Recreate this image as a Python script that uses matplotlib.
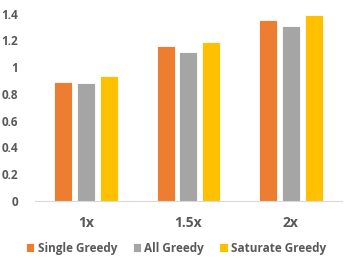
import numpy as np
import matplotlib.pyplot as plt

categories = ['1x', '1.5x', '2x']
single_greedy = [0.89, 1.16, 1.35]
all_greedy = [0.88, 1.11, 1.31]
saturate_greedy = [0.93, 1.19, 1.39]
yticks = [0, 0.2, 0.4, 0.6, 0.8, 1, 1.2, 1.4]
ytick_labels = ['0', '0.2', '0.4', '0.6', '0.8', '1', '1.2', '1.4']

plt.rcParams['font.family'] = ['Open Sans', 'DejaVu Sans']

fig = plt.figure(figsize=(3.49, 2.6), dpi=100)
ax = fig.add_axes([0.1, 0.227, 0.88, 0.721])

x = np.arange(len(categories))
w = 0.176
step = 0.224
series = [
    (single_greedy, '#ED7D31', 'Single Greedy'),
    (all_greedy, '#A5A5A5', 'All Greedy'),
    (saturate_greedy, '#FFC000', 'Saturate Greedy'),
]
for i, (vals, col, lab) in enumerate(series):
    ax.bar(x + (i - 1) * step, vals, width=w, color=col, label=lab,
           edgecolor='white', linewidth=0.6)

ax.set_xlim(-0.5, 2.5)
ax.set_ylim(0, 1.4)
ax.set_yticks(yticks)
ax.set_yticklabels(ytick_labels, fontsize=8.5, fontweight='bold', color='#595959')
ax.set_xticks(x)
ax.set_xticklabels(categories, fontsize=10, fontweight='bold', color='#595959')
ax.tick_params(axis='both', length=0)
ax.tick_params(axis='x', pad=11)
ax.tick_params(axis='y', pad=12)
for s in ['top', 'right', 'left']:
    ax.spines[s].set_visible(False)
ax.spines['bottom'].set_color('#D9D9D9')
ax.spines['bottom'].set_linewidth(0.8)

leg = fig.legend(loc='lower center', bbox_to_anchor=(0.505, -0.02), ncol=3, frameon=False,
                 fontsize=8.5, handlelength=0.7, handleheight=0.7, handletextpad=0.3,
                 columnspacing=1.3)
for t in leg.get_texts():
    t.set_fontweight('bold')
    t.set_color('#595959')

fig.savefig('out.png', dpi=100)
